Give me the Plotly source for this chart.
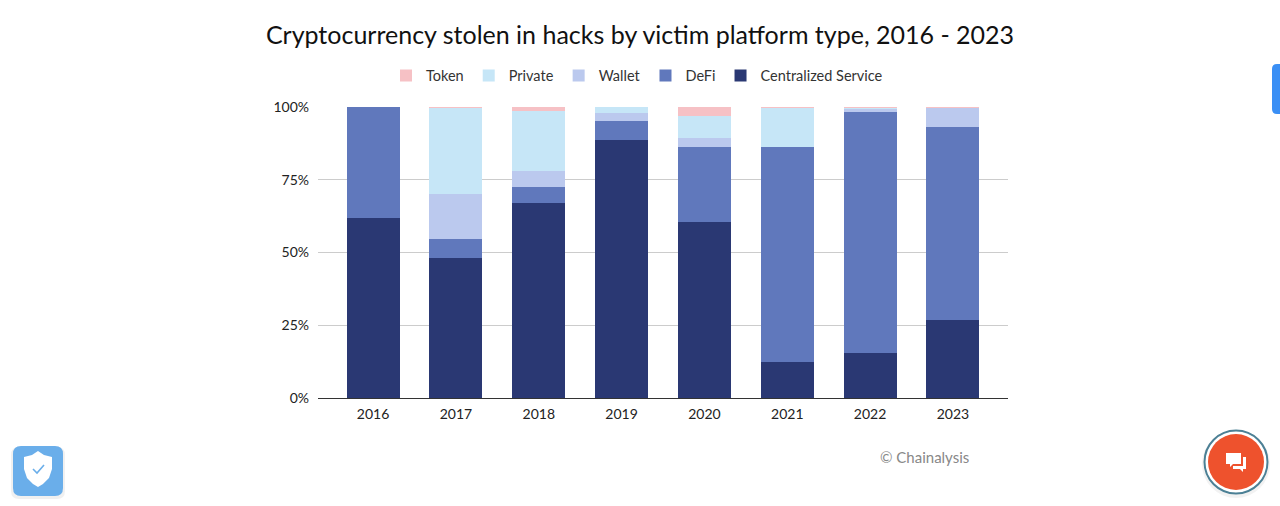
import plotly.graph_objects as go

years = ["2016", "2017", "2018", "2019", "2020", "2021", "2022", "2023"]
centralized = [62.0, 48.1, 66.9, 88.7, 60.4, 12.5, 15.3, 26.8]
defi = [38.0, 6.5, 5.7, 6.5, 25.8, 73.7, 83.3, 66.3]
wallet = [0.0, 15.5, 5.4, 2.8, 3.1, 0.0, 0.6, 6.6]
private = [0.0, 29.6, 20.5, 2.0, 7.6, 13.6, 0.7, 0.0]
token = [0.0, 0.3, 1.5, 0.0, 3.1, 0.2, 0.1, 0.3]
y_ticks = [0, 25, 50, 75, 100]
y_labels = ["0%", "25%", "50%", "75%", "100%"]

series = [
    ("Centralized Service", centralized, "#2a3873"),
    ("DeFi", defi, "#6078bc"),
    ("Wallet", wallet, "#bbc9ee"),
    ("Private", private, "#c6e6f7"),
    ("Token", token, "#f6c1c5"),
]

FONT = "Lato"
L, R, T, B = 318, 1008, 107, 398


def px(x):
    return (x - L) / (R - L)


def py(y):
    return (B - y) / (B - T)


def path(points):
    return "M " + " L ".join(f"{px(x):.5f},{py(y):.5f}" for x, y in points) + " Z"


def rounded(x0, y0, x1, y1, r):
    return (
        f"M {px(x0 + r):.5f},{py(y0):.5f} L {px(x1 - r):.5f},{py(y0):.5f} "
        f"Q {px(x1):.5f},{py(y0):.5f} {px(x1):.5f},{py(y0 + r):.5f} "
        f"L {px(x1):.5f},{py(y1 - r):.5f} Q {px(x1):.5f},{py(y1):.5f} {px(x1 - r):.5f},{py(y1):.5f} "
        f"L {px(x0 + r):.5f},{py(y1):.5f} Q {px(x0):.5f},{py(y1):.5f} {px(x0):.5f},{py(y1 - r):.5f} "
        f"L {px(x0):.5f},{py(y0 + r):.5f} Q {px(x0):.5f},{py(y0):.5f} {px(x0 + r):.5f},{py(y0):.5f} Z"
    )


def circle(cx, cy, r, **kw):
    return dict(type="circle", xref="paper", yref="paper",
                x0=px(cx - r), x1=px(cx + r), y0=py(cy + r), y1=py(cy - r), **kw)


def filled(d, color, opacity=1):
    return dict(type="path", xref="paper", yref="paper", path=d, fillcolor=color,
                opacity=opacity, line=dict(width=0))


fig = go.Figure()
for name, values, color in series:
    fig.add_bar(name=name, x=years, y=values, marker=dict(color=color, line=dict(width=0)))

shapes = [
    # blue side tab
    filled(rounded(1272, 64, 1290, 114, 5), "#3a8ff5"),
    # shield widget
    filled(rounded(11, 447, 65, 499, 8), "#000000", 0.06),
    filled(rounded(13, 446, 63, 496, 8), "#6aaeea"),
    filled(path([(38, 451), (44, 455), (52, 457), (52, 469), (49, 478), (43, 484), (38, 487),
                 (33, 484), (27, 478), (24, 469), (24, 457), (32, 455)]), "#ffffff"),
    dict(type="path", xref="paper", yref="paper",
         path=f"M {px(33):.5f},{py(469):.5f} L {px(37):.5f},{py(473):.5f} L {px(44):.5f},{py(465):.5f}",
         line=dict(color="#6aaeea", width=1.6)),
    # chat widget
    circle(1236, 464, 34, fillcolor="rgba(0,0,0,0.05)", line=dict(width=0)),
    circle(1236, 462, 31.5, fillcolor="#ffffff", line=dict(color="#4c8095", width=2)),
    circle(1236, 462, 28, fillcolor="#ee522d", line=dict(width=0)),
    filled(path([(1226, 453), (1241, 453), (1241, 464), (1233, 464), (1230, 467), (1230, 464), (1226, 464)]), "#ffffff"),
    filled(path([(1243, 457), (1246, 457), (1246, 469), (1243, 469), (1243, 472), (1240, 469), (1233, 469),
                 (1233, 466), (1243, 466)]), "#ffffff"),
]

fig.update_layout(
    width=1280, height=506, autosize=False,
    margin=dict(l=L, r=1280 - R, t=T, b=506 - B, pad=0),
    paper_bgcolor="#ffffff", plot_bgcolor="#ffffff",
    barmode="stack", bargap=0.36,
    font=dict(family=FONT, color="#222222", size=14),
    title=dict(text="Cryptocurrency stolen in hacks by victim platform type, 2016 - 2023",
               x=640 / 1280, xanchor="center", y=1 - 35 / 506, yanchor="middle",
               font=dict(family=FONT, size=25, color="#111111")),
    legend=dict(orientation="h", traceorder="reversed", x=px(637), xref="paper", xanchor="center",
                y=py(75.5), yref="paper", yanchor="middle",
                font=dict(family=FONT, size=14.5, color="#333333"), itemwidth=30),
    xaxis=dict(type="category", range=[-0.665, 7.665], showgrid=False, ticks="",
               showline=True, linecolor="#333333", linewidth=1, ticklabelstandoff=3,
               tickfont=dict(family=FONT, size=14, color="#222222")),
    yaxis=dict(range=[0, 100], tickmode="array", tickvals=y_ticks, ticktext=y_labels,
               gridcolor="#cccccc", gridwidth=1, zeroline=False, ticklabelstandoff=8,
               tickfont=dict(family=FONT, size=14, color="#222222")),
    shapes=shapes,
    annotations=[dict(text="© Chainalysis", xref="paper", yref="paper", x=px(971), y=py(457),
                      xanchor="right", yanchor="middle", showarrow=False,
                      font=dict(family=FONT, size=15, color="#888888"))],
)

fig.write_html("out.html", config=dict(displayModeBar=False),
               post_script="document.body.style.margin='0';document.body.style.overflow='hidden';")
